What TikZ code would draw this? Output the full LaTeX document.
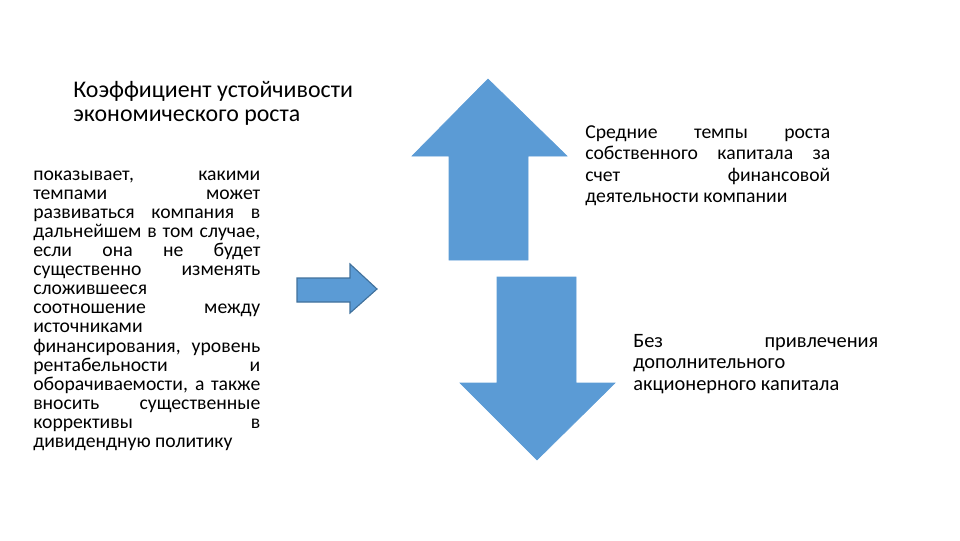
\documentclass[tikz,border=0pt]{standalone}
\usepackage{fontspec}
\setmainfont{Carlito}
\usepackage{tikz}

% one justified line of a text block
\newcommand{\jline}[1]{{\spaceskip=0pt\xspaceskip=0pt\makebox[\hsize][s]{#1}}}

\begin{document}
\setlength{\lineskiplimit}{-20pt}
\begin{tikzpicture}[
    x=0.025cm, y=-0.025cm,
    txt/.style={inner sep=0pt, align=flush left, anchor=base west},
    heading/.style={txt, text width=300*0.7113pt, font=\fontsize{17}{17.6}\selectfont},
    leftbody/.style={txt, text width=227*0.7113pt, font=\fontsize{14}{13.6}\selectfont},
    rightbody/.style={txt, text width=245*0.7113pt, font=\fontsize{14}{15.4}\selectfont},
    blockarrow/.style={fill=arrowblue, draw=arrowblue, line width=0.4pt, line join=miter},
    smallarrow/.style={fill=arrowblue, draw=arrowedge, line width=0.8pt, line join=miter}
]
\definecolor{arrowblue}{RGB}{91,155,213}
\definecolor{arrowedge}{RGB}{65,113,156}
\useasboundingbox (0,0) rectangle (960,540);

% texts
\node[heading] (title) at (73,97) {Коэффициент устойчивости\\экономического роста};
\node[leftbody] (meaning) at (33,180) {%
\jline{показывает, какими}\\
\jline{темпами может}\\
\jline{развиваться компания в}\\
\jline{дальнейшем в том случае,}\\
\jline{если она не будет}\\
\jline{существенно изменять}\\
сложившееся\\
\jline{соотношение между}\\
источниками\\
\jline{финансирования, уровень}\\
\jline{рентабельности и}\\
\jline{оборачиваемости, а также}\\
\jline{вносить существенные}\\
\jline{коррективы в}\\
дивидендную политику};
\node[rightbody] (growth) at (585,138) {%
\jline{Средние темпы роста}\\
\jline{собственного капитала за}\\
\jline{счет финансовой}\\
деятельности компании};
\node[rightbody, font=\fontsize{14.5}{15.4}\selectfont] (nocapital) at (633,347) {%
\jline{Без привлечения}\\
дополнительного\\
акционерного капитала};

% arrows
\filldraw[smallarrow] (297,278) -- (350,278) -- (350,264) -- (377,289)
    -- (350,313) -- (350,302) -- (297,302) -- cycle;
\filldraw[blockarrow] (449,260) -- (449,156) -- (412,156) -- (488,79)
    -- (567,156) -- (528,156) -- (528,260) -- cycle;
\filldraw[blockarrow] (497,277) -- (576,277) -- (576,383) -- (615,383)
    -- (537,460) -- (460,383) -- (497,383) -- cycle;
\end{tikzpicture}
\end{document}
